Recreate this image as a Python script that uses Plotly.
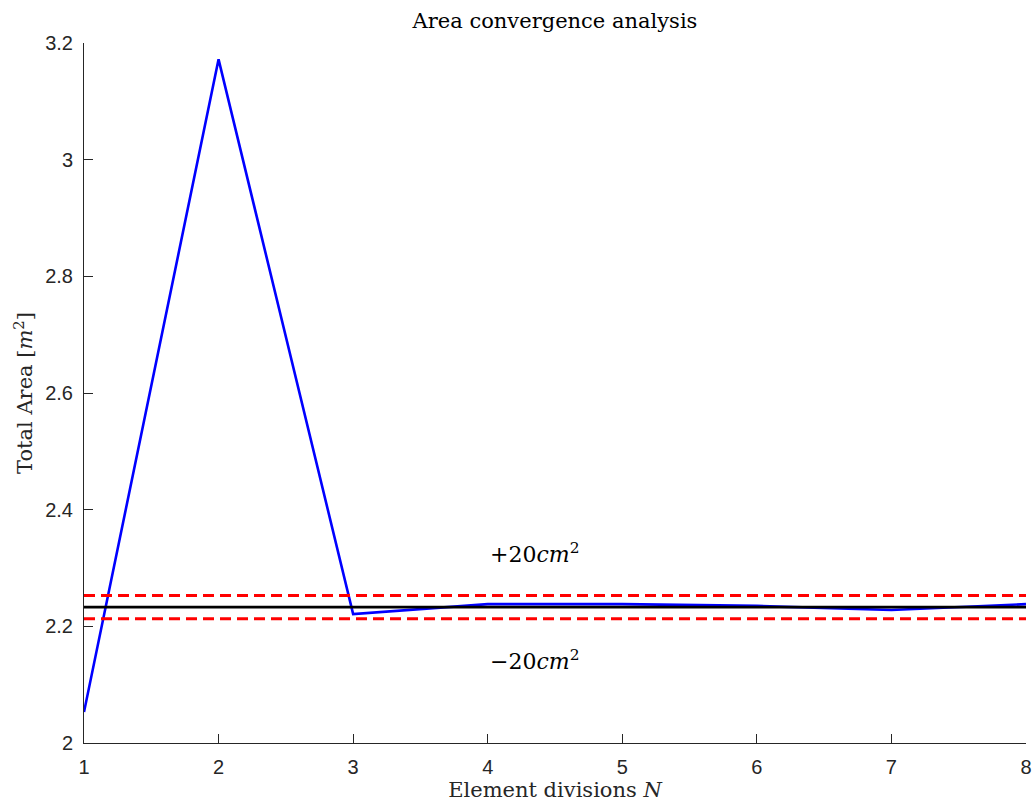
import plotly.graph_objects as go

# Mesh refinement study: total area for each number of element divisions
divisions = [1, 2, 3, 4, 5, 6, 7, 8]
total_area = [2.053, 3.172, 2.221, 2.238, 2.238, 2.235, 2.228, 2.238]

# Reference (converged) area and the +/- 20 cm^2 tolerance band
reference_area = 2.233
tolerance = 0.02
band_labels = ["+20<i>cm</i><sup>2</sup>", "\u221220<i>cm</i><sup>2</sup>"]
band_label_x = 4
band_label_y = [2.326, 2.142]

x_range = [1, 8]
y_ticks = [2, 2.2, 2.4, 2.6, 2.8, 3, 3.2]
y_tick_text = ["2", "2.2", "2.4", "2.6", "2.8", "3", "3.2"]

serif = "DejaVu Serif, Liberation Serif, serif"
sans = "Liberation Sans, Arial, sans-serif"
axis_grey = "#262626"

fig = go.Figure()

fig.add_trace(go.Scatter(
    x=divisions, y=total_area, mode="lines",
    line=dict(color="#0000FF", width=2.6), showlegend=False,
))
fig.add_trace(go.Scatter(
    x=x_range, y=[reference_area, reference_area], mode="lines",
    line=dict(color="#000000", width=2.6), showlegend=False,
))
for sign in (1, -1):
    level = reference_area + sign * tolerance
    fig.add_trace(go.Scatter(
        x=x_range, y=[level, level], mode="lines",
        line=dict(color="#FF0000", width=3, dash="11px,6px"), showlegend=False,
    ))

for text, yv in zip(band_labels, band_label_y):
    fig.add_annotation(
        x=band_label_x, y=yv, text=text, showarrow=False,
        xanchor="left", yanchor="middle",
        font=dict(family=serif, size=22, color="#000000"),
    )

fig.update_layout(
    width=1034, height=805,
    paper_bgcolor="white", plot_bgcolor="white",
    margin=dict(l=84, r=8, t=43, b=62),
    title=dict(
        text="Area convergence analysis",
        x=(84 + 1026) / 2 / 1034, xanchor="center",
        y=1 - 21 / 805, yanchor="middle",
        font=dict(family=serif, size=21, color="#000000"),
    ),
    xaxis=dict(
        range=x_range, tickmode="array", tickvals=divisions,
        ticks="inside", ticklen=9, tickwidth=1, tickcolor=axis_grey,
        showline=True, linecolor=axis_grey, linewidth=1,
        showgrid=False, zeroline=False, automargin=False,
        ticklabelstandoff=6,
        tickfont=dict(family=sans, size=20, color=axis_grey),
        title=dict(text="Element divisions <i>N</i>", standoff=0,
                   font=dict(family=serif, size=21, color=axis_grey)),
    ),
    yaxis=dict(
        range=[2, 3.2], tickmode="array", tickvals=y_ticks, ticktext=y_tick_text,
        ticks="inside", ticklen=9, tickwidth=1, tickcolor=axis_grey,
        showline=True, linecolor=axis_grey, linewidth=1,
        showgrid=False, zeroline=False, automargin=False,
        ticklabelstandoff=6,
        tickfont=dict(family=sans, size=20, color=axis_grey),
        title=dict(text="Total Area [<i>m</i><sup>2</sup>]", standoff=6,
                   font=dict(family=serif, size=21, color=axis_grey)),
    ),
)

fig.write_html("out.html")
